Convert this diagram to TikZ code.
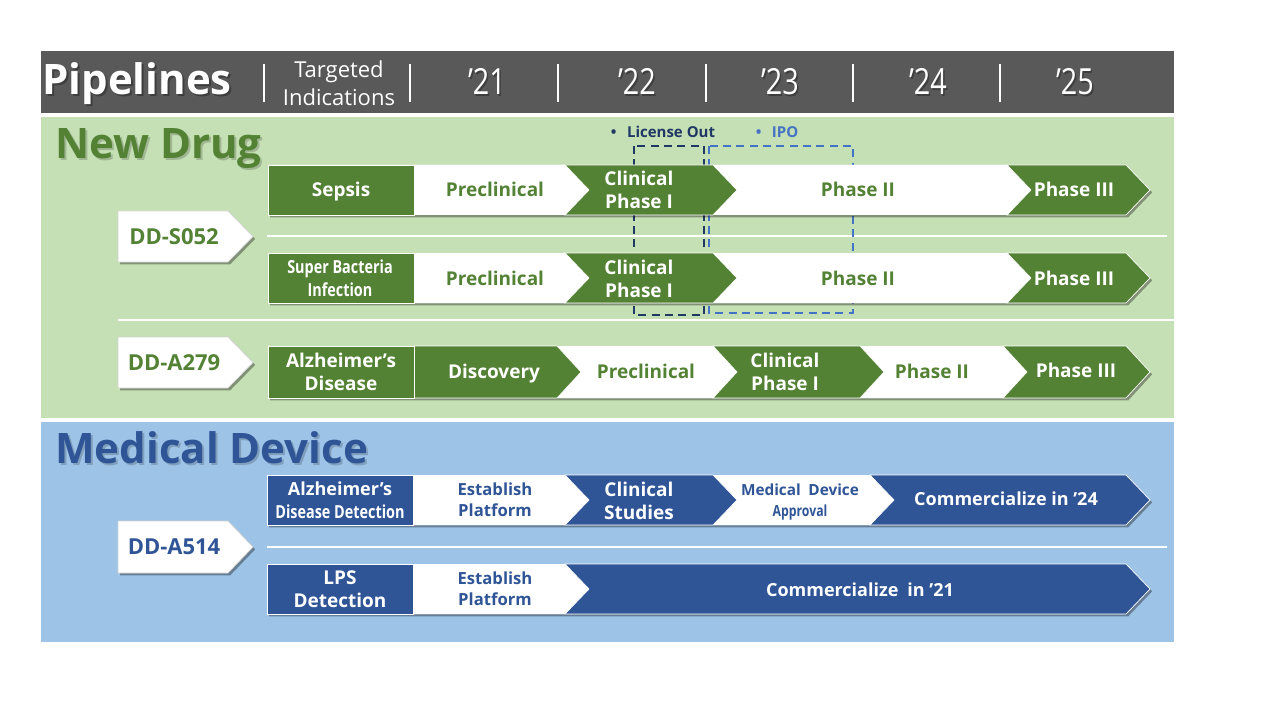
\documentclass[tikz,border=0pt]{standalone}
\usepackage{fontspec}
\setmainfont{Open Sans}
\usetikzlibrary{shadows}

\definecolor{hdr}{HTML}{595959}
\definecolor{dgreen}{HTML}{548235}
\definecolor{lgreen}{HTML}{C5E0B4}
\definecolor{dblue}{HTML}{2F5597}
\definecolor{lblue}{HTML}{9DC3E6}
\definecolor{navy}{HTML}{203864}
\definecolor{ipoblue}{HTML}{4472C4}

% depth of every chevron point / notch
\newcommand\chevd{24}
% #1 style, #2 left x, #3 shoulder x, #4 top y, #5 bottom y, #6 notch (0/1)
\newcommand\stagechev[6]{%
  \pgfmathsetmacro\chevmid{(#4+#5)/2}%
  \pgfmathsetmacro\chevtip{#3+\chevd}%
  \pgfmathsetmacro\chevnotch{#2+#6*\chevd}%
  \path[#1] (#2,#4) -- (#3,#4) -- (\chevtip,\chevmid) -- (#3,#5) -- (#2,#5)
     -- (\chevnotch,\chevmid) -- cycle;}
% whole row outline, carrying the shadow
\newcommand\rowshadow[4]{% #1 left, #2 shoulder, #3 top, #4 bottom
  \pgfmathsetmacro\chevmid{(#3+#4)/2}%
  \pgfmathsetmacro\chevtip{#2+\chevd}%
  \path[fill=white, drop shadow={shadow xshift=1.6pt, shadow yshift=-1.8pt, opacity=0.35, fill=black}]
     (#1,#3) -- (#2,#3) -- (\chevtip,\chevmid) -- (#2,#4) -- (#1,#4) -- cycle;}
% white tag in front of each pipeline
\newcommand\tagshape[3]{% #1 top, #2 bottom, #3 name
  \pgfmathsetmacro\chevmid{(#1+#2)/2}%
  \path[fill=white, draw=gray!35, line width=0.5pt,
        drop shadow={shadow xshift=1.6pt, shadow yshift=-1.8pt, opacity=0.35, fill=black}]
     (118,#1) -- (228,#1) -- (253,\chevmid) -- (228,#2) -- (118,#2) -- cycle;}

\tikzset{
  gfill/.style={fill=dgreen, draw=white, line width=0.5pt},
  bfill/.style={fill=dblue, draw=white, line width=0.5pt},
  wfill/.style={fill=white},
  stagetxt/.style={font=\fontsize{14.25}{17.5}\selectfont\bfseries, align=center, inner sep=0pt},
  oneline/.style={text height=10.3pt, text depth=0pt},
  onelinesm/.style={text height=9.7pt, text depth=0pt},
  ontone/.style={stagetxt, text=white},
  ongreen/.style={stagetxt, text=dgreen},
  onblue/.style={stagetxt, text=dblue},
  smalltxt/.style={font=\fontsize{12.5}{16}\selectfont\bfseries, align=center, inner sep=0pt},
  tagtxt/.style={font=\fontsize{16.5}{18}\selectfont\bfseries, inner sep=0pt, text height=11.9pt, text depth=0pt},
  yeartxt/.style={font=\fontsize{27}{28}\selectfont, text=white, inner sep=0pt, anchor=base},
  titletxt/.style={font=\fontsize{31.5}{34}\selectfont\bfseries, inner sep=0pt},
  sepline/.style={white, line width=1.5pt},
  rowline/.style={white, line width=1.8pt},
}
\newcommand\narrow[1]{\scalebox{0.8}[1]{#1}}

\begin{document}
\begin{tikzpicture}[x=0.75pt, y=-0.75pt]
\useasboundingbox (0,0) rectangle (1280,720);
\fill[white] (0,0) rectangle (1280,720);

% ---------- header bar ----------
\fill[hdr] (41,51) rectangle (1174,113);
\node[titletxt, text=black, opacity=0.3, anchor=base] (pipeshadow) at (139,96.5) {Pipelines};
\node[titletxt, text=white, anchor=base] (pipe) at (137,95) {Pipelines};
\node[font=\fontsize{16.5}{21}\selectfont, text=white, align=center, inner sep=0pt] (target) at (339,83) {Targeted\\Indications};
\foreach \xx in {264,410,558,706,853,1000}
  \draw[sepline] (\xx,64) -- (\xx,102);
\foreach \xx/\yy/\nm in {487/21/y21, 637/22/y22, 780/23/y23, 928/24/y24, 1075/25/y25}{
  \node[yeartxt, text=black, opacity=0.3] (\nm s) at (\xx+1.5,96.5) {\scalebox{0.8}[1]{’\yy}};
  \node[yeartxt] (\nm) at (\xx,95) {\scalebox{0.8}[1]{’\yy}};
}

% ---------- section backgrounds ----------
\fill[lgreen] (41,117) rectangle (1174,418);
\fill[lblue] (41,422) rectangle (1174,642);
\node[titletxt, text=black, opacity=0.18, anchor=base west] (ndshadow) at (57,161) {New Drug};
\node[titletxt, text=dgreen, anchor=base west] (newdrug) at (55,159) {New Drug};
\node[titletxt, text=black, opacity=0.18, anchor=base west] (mdshadow) at (57,465) {Medical Device};
\node[titletxt, text=dblue, anchor=base west] (meddev) at (55,463) {Medical Device};

% divider lines
\draw[rowline] (267,236) -- (1167,236);
\draw[rowline] (118,320) -- (1174,320);
\draw[rowline] (267,547) -- (1167,547);

% ---------- milestone markers ----------
\node[font=\fontsize{11.25}{13}\selectfont\bfseries, text=navy, inner sep=0pt] (licout) at (663,132) {•\hspace{0.7em}License Out};
\node[font=\fontsize{11.25}{13}\selectfont\bfseries, text=ipoblue, inner sep=0pt] (ipo) at (777,132) {•\hspace{0.7em}IPO};
\draw[navy, line width=1.4pt, dash pattern=on 6pt off 4pt] (634,146) rectangle (704,315);
\draw[ipoblue, line width=1.4pt, dash pattern=on 6pt off 4pt] (709,146) rectangle (853,313);

% ---------- DD-S052 : Sepsis ----------
\rowshadow{268}{1126}{165}{215}
\path[gfill] (268,165) rectangle (414,215);
\stagechev{wfill}{414}{565}{165}{215}{0}
\stagechev{wfill}{713}{1007}{165}{215}{1}
\stagechev{gfill}{565}{713}{165}{215}{1}
\stagechev{gfill}{1007}{1126}{165}{215}{1}
\node[ontone, oneline] (sepsis) at (341,190) {Sepsis};
\node[ongreen, oneline] (s1) at (495,190) {Preclinical};
\node[ontone] (s2) at (639,190) {Clinical\\Phase I};
\node[ongreen, oneline] (s3) at (858,190) {Phase II};
\node[ontone, oneline] (s4) at (1074,190) {Phase III};

% ---------- DD-S052 : Super Bacteria ----------
\rowshadow{268}{1126}{253}{303}
\path[gfill] (268,253) rectangle (414,303);
\stagechev{wfill}{414}{565}{253}{303}{0}
\stagechev{wfill}{713}{1007}{253}{303}{1}
\stagechev{gfill}{565}{713}{253}{303}{1}
\stagechev{gfill}{1007}{1126}{253}{303}{1}
\node[ontone, font=\fontsize{13.5}{17}\selectfont\bfseries] (bact) at (340,278) {\narrow{Super Bacteria}\\\narrow{Infection}};
\node[ongreen, oneline] (b1) at (495,279) {Preclinical};
\node[ontone] (b2) at (639,279) {Clinical\\Phase I};
\node[ongreen, oneline] (b3) at (858,279) {Phase II};
\node[ontone, oneline] (b4) at (1074,279) {Phase III};

% ---------- DD-A279 : Alzheimer's ----------
\rowshadow{268}{1126}{346}{398}
\stagechev{wfill}{557}{713}{346}{398}{1}
\stagechev{wfill}{860}{1003}{346}{398}{1}
\stagechev{gfill}{414}{557}{346}{398}{0}
\stagechev{gfill}{713}{860}{346}{398}{1}
\stagechev{gfill}{1003}{1126}{346}{398}{1}
\path[gfill] (268,346) rectangle (414,398);
\node[ontone] (alz) at (341,372) {Alzheimer’s\\Disease};
\node[ontone, oneline] (a1) at (494,372) {Discovery};
\node[ongreen, oneline] (a2) at (646,372) {Preclinical};
\node[ontone] (a3) at (785,372) {Clinical\\Phase I};
\node[ongreen, oneline] (a4) at (932,372) {Phase II};
\node[ontone, oneline] (a5) at (1076,371) {Phase III};

% ---------- DD-A514 : Alzheimer's detection ----------
\rowshadow{267}{1126}{475}{525}
\path[bfill] (267,475) rectangle (413,525);
\stagechev{wfill}{413}{565}{475}{525}{0}
\stagechev{wfill}{713}{870}{475}{525}{1}
\stagechev{bfill}{565}{713}{475}{525}{1}
\stagechev{bfill}{870}{1126}{475}{525}{1}
\node[ontone, font=\fontsize{13.5}{17}\selectfont\bfseries] (alzd) at (340,500) {Alzheimer’s\\\narrow{Disease Detection}};
\node[onblue, smalltxt] (d1) at (495,500) {Establish\\Platform};
\node[ontone] (d2) at (639,501) {Clinical\\Studies};
\node[onblue, smalltxt, font=\fontsize{11.5}{16}\selectfont\bfseries] (d3) at (800,502) {Medical\enspace Device\\\narrow{Approval}};
\node[ontone, onelinesm, font=\fontsize{13.5}{16}\selectfont\bfseries] (d4) at (1006,499) {Commercialize in ’24};

% ---------- DD-A514 : LPS detection ----------
\rowshadow{267}{1126}{564}{614}
\path[bfill] (267,564) rectangle (413,614);
\stagechev{wfill}{413}{565}{564}{614}{0}
\stagechev{bfill}{565}{1126}{564}{614}{1}
\node[ontone] (lps) at (340,589) {LPS\\Detection};
\node[onblue, smalltxt] (l1) at (495,589) {Establish\\Platform};
\node[ontone, onelinesm, font=\fontsize{13.5}{16}\selectfont\bfseries] (l2) at (860,590) {Commercialize\enspace in ’21};

% ---------- pipeline tags ----------
\tagshape{211}{262}{tagS}
\node[tagtxt, text=dgreen] (ddS) at (174,237) {DD-S052};
\tagshape{337}{388}{tagA}
\node[tagtxt, text=dgreen] (ddA) at (174,363) {DD-A279};
\tagshape{521}{573}{tagD}
\node[tagtxt, text=dblue] (ddD) at (174,547) {DD-A514};
\end{tikzpicture}
\end{document}
